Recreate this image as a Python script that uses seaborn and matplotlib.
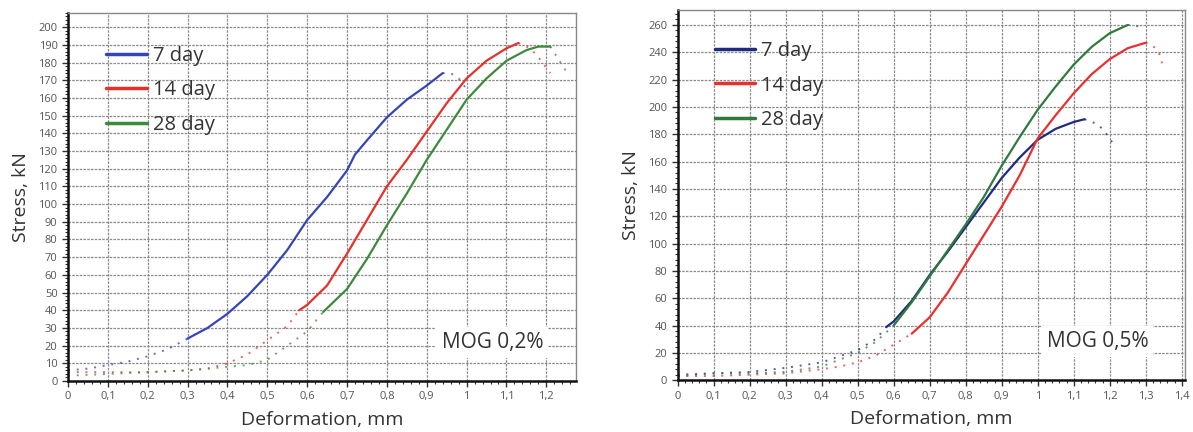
import matplotlib.pyplot as plt
import matplotlib.ticker as mticker
from matplotlib.lines import Line2D
import pandas as pd
import seaborn as sns

sns.set_theme(style="white")
plt.rcParams['font.family'] = ['Open Sans', 'DejaVu Sans']

# --- MOG 0,2% ---
x_02_7 = [0, 0.05, 0.1, 0.15, 0.2, 0.25, 0.3, 0.35, 0.4, 0.45, 0.5, 0.55, 0.6, 0.65, 0.7,
          0.72, 0.75, 0.8, 0.85, 0.9, 0.94, 0.96, 0.98, 1.0]
y_02_7 = [6, 7, 9, 11, 14, 18, 24, 30, 38, 48, 60, 74, 91, 104, 119,
          128, 136, 149, 159, 167, 174, 174, 171, 165]
x_02_14 = [0, 0.1, 0.2, 0.3, 0.35, 0.4, 0.45, 0.5, 0.55, 0.58, 0.6, 0.65, 0.7, 0.75, 0.8, 0.85,
           0.9, 0.95, 1.0, 1.05, 1.1, 1.13, 1.16, 1.18, 1.21]
y_02_14 = [5, 5, 5, 6, 7, 10, 15, 23, 31, 40, 43, 54, 72, 91, 110, 125,
           141, 157, 171, 181, 188, 191, 188, 183, 174]
x_02_28 = [0, 0.1, 0.2, 0.3, 0.4, 0.45, 0.5, 0.55, 0.6, 0.64, 0.7, 0.75, 0.8, 0.85, 0.9, 0.95,
           1.0, 1.05, 1.1, 1.15, 1.18, 1.21, 1.23, 1.25]
y_02_28 = [3, 4, 5, 6, 8, 9, 12, 20, 28, 39, 52, 69, 88, 106, 125, 142,
           159, 171, 181, 187, 189, 189, 182, 175]

# --- MOG 0,5% ---
x_05_7 = [0, 0.1, 0.2, 0.3, 0.4, 0.5, 0.55, 0.58, 0.6, 0.65, 0.7, 0.75, 0.8, 0.85, 0.9, 0.95,
          1.0, 1.05, 1.1, 1.13, 1.16, 1.18, 1.21]
y_05_7 = [4, 5, 6, 9, 13, 22, 30, 39, 43, 58, 77, 94, 112, 130, 148, 163,
          176, 184, 189, 191, 188, 184, 173]
x_05_14 = [0, 0.1, 0.2, 0.3, 0.4, 0.45, 0.5, 0.55, 0.6, 0.65, 0.7, 0.75, 0.8, 0.85, 0.9, 0.95,
           1.0, 1.05, 1.1, 1.15, 1.2, 1.25, 1.3, 1.32, 1.34, 1.345]
y_05_14 = [3, 3, 4, 5, 8, 10, 13, 18, 26, 34, 46, 64, 85, 106, 127, 150,
           177, 194, 210, 224, 235, 243, 247, 245, 238, 232]
x_05_28 = [0, 0.1, 0.2, 0.3, 0.4, 0.5, 0.55, 0.6, 0.65, 0.7, 0.75, 0.8, 0.85, 0.9, 0.95,
           1.0, 1.05, 1.1, 1.15, 1.2, 1.25, 1.27, 1.29]
y_05_28 = [3, 5, 5, 6, 10, 20, 28, 40, 57, 76, 95, 114, 134, 157, 178,
           198, 215, 231, 244, 254, 260, 260, 257]

labels = ['7 day', '14 day', '28 day']
# part of each curve drawn solid (the rest is dotted)
solid_02 = [(0.3, 0.94), (0.58, 1.13), (0.64, 1.21)]
solid_05 = [(0.58, 1.13), (0.65, 1.3), (0.6, 1.25)]

panels = [
    dict(xs=[x_02_7, x_02_14, x_02_28], ys=[y_02_7, y_02_14, y_02_28], solid=solid_02,
         colors=['#3545b5', '#e8302a', '#3d8a3d'], xlim=(0, 1.275), ylim=(0, 208),
         ymaj=10, ymin=2, note='MOG 0,2%', rect=[0.057, 0.118, 0.426, 0.852],
         leg=(0.04, 0.96), note_x=0.935),
    dict(xs=[x_05_7, x_05_14, x_05_28], ys=[y_05_7, y_05_14, y_05_28], solid=solid_05,
         colors=['#1f2a80', '#ea2f2f', '#2f7a3c'], xlim=(0, 1.408), ylim=(0, 271),
         ymaj=20, ymin=4, note='MOG 0,5%', rect=[0.568, 0.120, 0.425, 0.857],
         leg=(0.038, 0.965), note_x=0.928),
]


def comma_fmt(v, pos):
    return f'{v:g}'.replace('.', ',')


fig = plt.figure(figsize=(11.93, 4.32), dpi=100)

for p in panels:
    ax = fig.add_axes(p['rect'])
    for xs, ys, (s0, s1), lab, col in zip(p['xs'], p['ys'], p['solid'], labels, p['colors']):
        df = pd.DataFrame({'x': xs, 'y': ys})
        sol = df[(df.x >= s0) & (df.x <= s1)]
        pre = df[df.x <= s0]
        post = df[df.x >= s1]
        sns.lineplot(data=sol, x='x', y='y', ax=ax, color=col, lw=1.6, sort=False)
        for tail in (pre, post):
            sns.lineplot(data=tail, x='x', y='y', ax=ax, color=col, lw=1.4,
                         linestyle=(0, (1, 3.5)), sort=False, alpha=0.75)

    ax.set_xlim(*p['xlim'])
    ax.set_ylim(*p['ylim'])
    ax.xaxis.set_major_locator(mticker.MultipleLocator(0.1))
    ax.xaxis.set_minor_locator(mticker.MultipleLocator(0.02))
    ax.yaxis.set_major_locator(mticker.MultipleLocator(p['ymaj']))
    ax.yaxis.set_minor_locator(mticker.MultipleLocator(p['ymin']))
    ax.xaxis.set_major_formatter(mticker.FuncFormatter(comma_fmt))
    ax.tick_params(which='major', direction='out', length=4, width=1, color='#333333',
                   labelsize=8, labelcolor='#555555', bottom=True, left=True)
    ax.tick_params(which='minor', direction='out', length=2.5, width=0.8, color='#333333',
                   bottom=True, left=True)
    ax.grid(True, which='major', color='#8a8a8a', lw=0.9, ls=(0, (2, 1)))
    for s in ('left', 'bottom'):
        ax.spines[s].set_color('#111111')
        ax.spines[s].set_linewidth(1.8)
    for s in ('top', 'right'):
        ax.spines[s].set_color('#888888')
        ax.spines[s].set_linewidth(1.0)

    ax.set_xlabel('Deformation, mm', fontsize=14, color='#333333', labelpad=6)
    ax.set_ylabel('Stress, kN', fontsize=14, color='#333333', labelpad=6)

    handles = [Line2D([0], [0], color=c, lw=2.5) for c in p['colors']]
    ax.legend(handles, labels, loc='upper left', bbox_to_anchor=p['leg'], frameon=False,
              fontsize=14.5, handlelength=2.0, handletextpad=0.3, labelspacing=0.72,
              labelcolor='#333333')

    ax.text(p['note_x'], 0.105, p['note'], transform=ax.transAxes, ha='right', va='center',
            fontsize=15, color='#333333',
            bbox=dict(boxstyle='square,pad=0.25', facecolor='white', edgecolor='none'))

fig.savefig('out.png', dpi=100)
